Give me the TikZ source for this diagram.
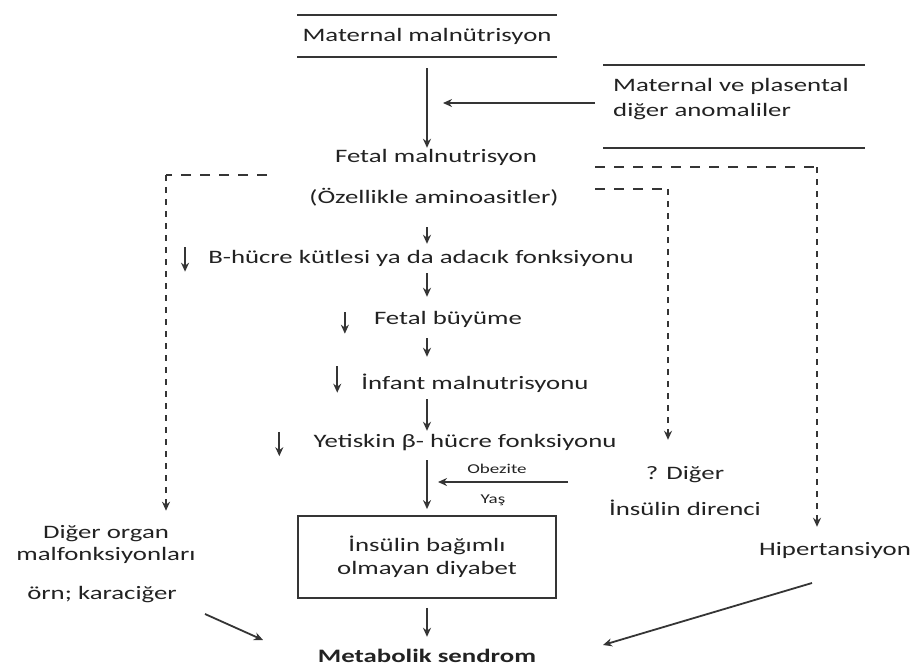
\documentclass[tikz,border=0pt]{standalone}
\usepackage{fontspec}
\setmainfont{Carlito}[FakeStretch=1.41]
\usetikzlibrary{positioning,arrows.meta,calc}
\definecolor{Ink}{HTML}{222222}
\definecolor{Rule}{HTML}{353535}

\begin{document}
\begin{tikzpicture}[
  x=1pt, y=-1pt,
  every node/.style={align=center, text=Ink, inner sep=0pt},
  txt/.style={font=\fontsize{19}{23}\selectfont, text height=14pt, text depth=5pt},
  small/.style={font=\fontsize{13.5}{16}\selectfont},
  rule/.style={draw=Rule, line width=1.9pt},
  arr/.style={-{Stealth[length=9pt,width=8pt]}, draw=Rule, line width=1.8pt},
  hdash/.style={draw=Rule, line width=2pt, dash pattern=on 10pt off 9pt},
  vdash/.style={draw=Rule, line width=2pt, dash pattern=on 6pt off 6pt},
  framebox/.style={draw=Rule, line width=1.8pt, minimum width=258pt, minimum height=82pt}
]
\useasboundingbox (0,0) rectangle (922,670);

% Top
\node[txt] (matmal) at (427,37) {Maternal malnütrisyon};
\draw[rule] ($(matmal)+(-130,-22)$) -- ++(260,0);
\draw[rule] ($(matmal)+(-130,20)$) -- ++(260,0);
\node[font=\fontsize{19}{25}\selectfont, align=left, anchor=west] (anom) at (613,99.5) {Maternal ve plasental\\diğer anomaliler};
\draw[rule] ($(anom.west)+(-10,-34.5)$) -- ++(262,0);
\draw[rule] ($(anom.west)+(-10,48.5)$) -- ++(262,0);

% Main column
\node[txt] (fetmal) at (436,158) {Fetal malnutrisyon};
\node[txt] (ozel) at (434,199) {(Özellikle aminoasitler)};
\node[txt] (bhucre) at (421,259) {B-hücre kütlesi ya da adacık fonksiyonu};
\node[txt] (buyume) at (448,320) {Fetal büyüme};
\node[txt] (infant) at (475,385) {İnfant malnutrisyonu};
\node[txt] (yetis) at (465,443) {Yetiskin β- hücre fonksiyonu};
\node[small] (obez) at (497,469) {Obezite};
\node[small] (yas) at (493,500) {Yaş};
\node[framebox, font=\fontsize{19}{23}\selectfont] (niddm) at (427,557) {İnsülin bağımlı\\olmayan diyabet};
\node[txt, font=\bfseries\fontsize{19}{23}\selectfont] (metab) at (427,658) {Metabolik sendrom};

% Side branches
\node[font=\fontsize{19}{22}\selectfont] (organ) at (106,544) {Diğer organ\\malfonksiyonları};
\node[txt] (orn) at (102,595) {örn; karaciğer};
\node[txt] (diger) at (685,475) {? Diğer};
\node[txt] (direnc) at (685,511) {İnsülin direnci};
\node[txt] (hiper) at (835,551) {Hipertansiyon};

\coordinate (axis) at (427,0);
\coordinate (anomtail) at (595,103);
\coordinate (risktail) at (568,482);
\coordinate (lstart) at (267,175);
\coordinate (lbend) at (166,175);
\coordinate (rstart) at (595,167);
\coordinate (rbend) at (817,167);
\coordinate (mstart) at (595,189);
\coordinate (mbend) at (668,189);
\coordinate (ltail) at (205,614);
\coordinate (lhead) at (263,640);
\coordinate (rtail) at (812,583);
\coordinate (rhead) at (603,645);

% Arrows
\draw[arr, shorten <=21.5pt, shorten >=0.5pt] (axis |- matmal.south) -- (axis |- fetmal.north);
\draw[arr, shorten >=16pt] (anomtail) -- (axis |- anomtail);
\draw[arr, shorten <=18.5pt, shorten >=5.5pt] (axis |- ozel.south) -- (axis |- bhucre.north);
\draw[arr, shorten <=4.5pt, shorten >=13.5pt] (axis |- bhucre.south) -- (axis |- buyume.north);
\draw[arr, shorten <=8.5pt, shorten >=18.5pt] (axis |- buyume.south) -- (axis |- infant.north);
\draw[arr, shorten <=4.5pt, shorten >=2.5pt] (axis |- infant.south) -- (axis |- yetis.north);
\draw[arr, shorten <=7.5pt, shorten >=6pt] (axis |- yetis.south) -- (niddm.north);
\draw[arr, shorten >=11pt] (risktail) -- (axis |- risktail);
\draw[arr, shorten <=9pt, shorten >=11.5pt] (niddm.south) -- (metab.north);

% Small drops
\draw[arr] ([xshift=-23pt,yshift=2pt]bhucre.north west) -- ([xshift=-23pt,yshift=-3pt]bhucre.south west);
\draw[arr] ([xshift=-29pt,yshift=-2pt]buyume.north west) -- ([xshift=-29pt,yshift=-4pt]buyume.south west);
\draw[arr] ([xshift=-24pt,yshift=9pt]infant.north west) -- ([xshift=-24pt,yshift=2pt]infant.south west);
\draw[arr] ([xshift=-34pt,yshift=1.5pt]yetis.north west) -- ([xshift=-34pt,yshift=-3.5pt]yetis.south west);

% Dashed branches
\draw[hdash] (lstart) -- (lbend);
\draw[arr, vdash, shorten >=14pt] (lbend) -- (lbend |- organ.north);
\draw[hdash] (rstart) -- (rbend);
\draw[arr, vdash, shorten >=14.5pt] (rbend) -- (rbend |- hiper.north);
\draw[hdash] (mstart) -- (mbend);
\draw[arr, vdash, shorten >=25.5pt] (mbend) -- (mbend |- diger.north);

% Into syndrome
\draw[arr] (ltail) -- (lhead);
\draw[arr] (rtail) -- (rhead);
\end{tikzpicture}
\end{document}
